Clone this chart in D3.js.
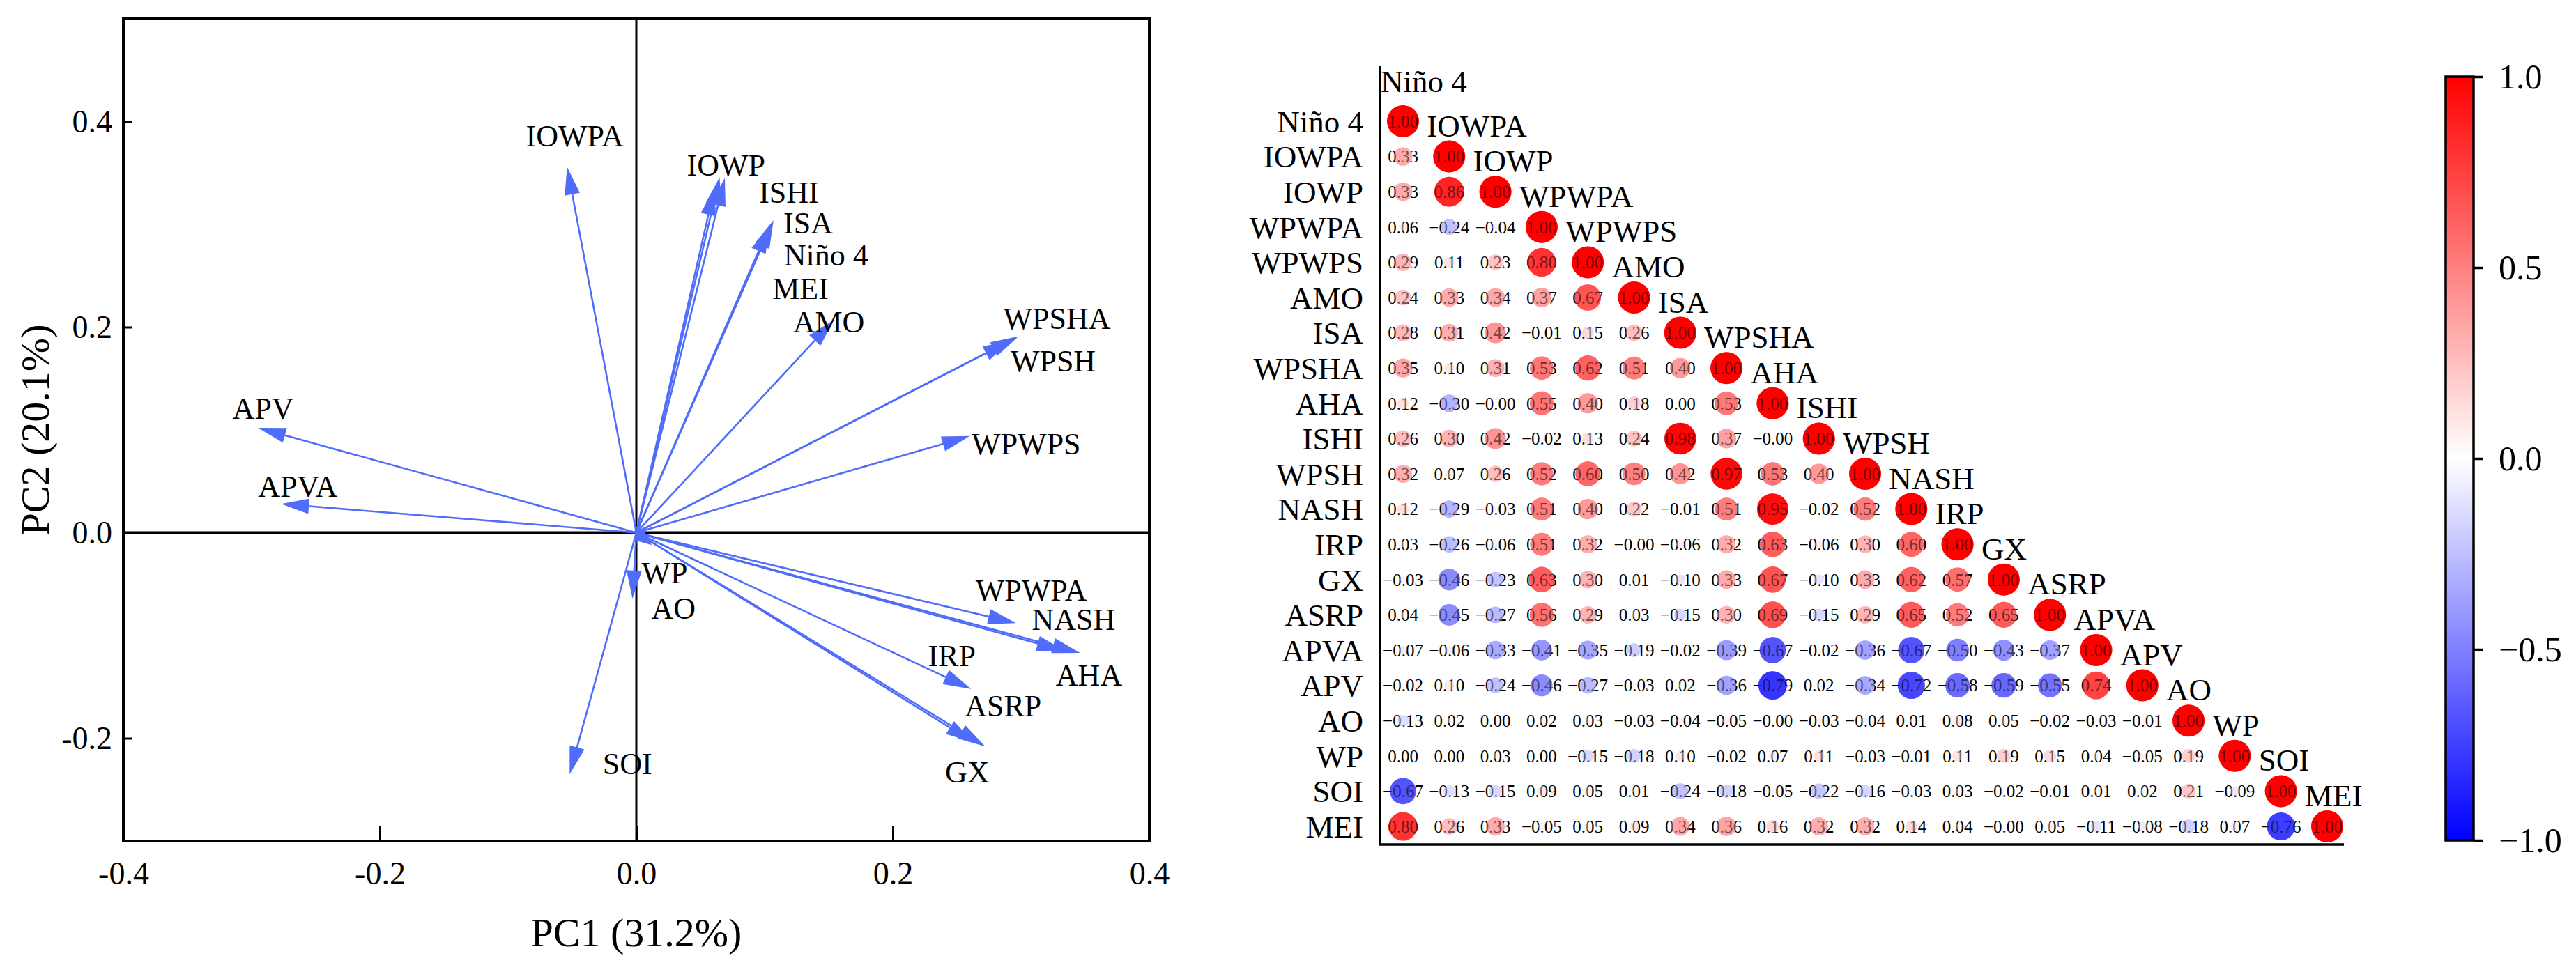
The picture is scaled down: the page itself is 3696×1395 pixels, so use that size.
<!DOCTYPE html>
<html><head><meta charset="utf-8">
<script src="https://cdn.jsdelivr.net/npm/d3@7"></script>
<style>
body{margin:0;background:#fff}
svg{display:block;background:#fff}
text{font-family:"Liberation Serif","Times New Roman",serif}
</style>
</head><body>
<svg id="c" width="3696" height="1395"></svg>
<script>
// ---------- PCA biplot data ----------
const pcaVars  = ["IOWPA","IOWP","Niño 4","MEI","ISA","ISHI","AMO","WPSHA","WPSH","WPWPS","WPWPA","NASH","AHA","IRP","ASRP","GX","APV","APVA","WP","AO","SOI"];
const pc1      = [-0.054,0.069,0.065,0.061,0.107,0.104,0.154,0.298,0.292,0.260,0.296,0.334,0.346,0.261,0.263,0.272,-0.295,-0.277,-0.003,0.012,-0.052];
const pc2      = [0.356,0.345,0.346,0.336,0.304,0.299,0.207,0.191,0.187,0.094,-0.088,-0.115,-0.117,-0.152,-0.204,-0.208,0.102,0.028,-0.064,-0.012,-0.235];
const labelPc1 = [-0.048,0.070,0.148,0.128,0.134,0.119,0.150,0.328,0.325,0.304,0.308,0.341,0.353,0.246,0.286,0.258,-0.291,-0.264,0.022,0.029,-0.007];
const labelPc2 = [0.386,0.357,0.270,0.237,0.301,0.331,0.205,0.208,0.167,0.086,-0.056,-0.085,-0.139,-0.120,-0.169,-0.233,0.121,0.045,-0.039,-0.074,-0.225];
const xTicks = [-0.4,-0.2,0,0.2,0.4];
const yTicks = [-0.2,0,0.2,0.4];

// ---------- Correlation matrix data ----------
const corrVars = ["Niño 4","IOWPA","IOWP","WPWPA","WPWPS","AMO","ISA","WPSHA","AHA","ISHI","WPSH","NASH","IRP","GX","ASRP","APVA","APV","AO","WP","SOI","MEI"];
const corrLower = [
 [1.00],
 [0.33,1.00],
 [0.33,0.86,1.00],
 [0.06,-0.24,-0.04,1.00],
 [0.29,0.11,0.23,0.80,1.00],
 [0.24,0.33,0.34,0.37,0.67,1.00],
 [0.28,0.31,0.42,-0.01,0.15,0.26,1.00],
 [0.35,0.10,0.31,0.53,0.62,0.51,0.40,1.00],
 [0.12,-0.30,-0.00,0.55,0.40,0.18,0.00,0.53,1.00],
 [0.26,0.30,0.42,-0.02,0.13,0.24,0.98,0.37,-0.00,1.00],
 [0.32,0.07,0.26,0.52,0.60,0.50,0.42,0.97,0.53,0.40,1.00],
 [0.12,-0.29,-0.03,0.51,0.40,0.22,-0.01,0.51,0.95,-0.02,0.52,1.00],
 [0.03,-0.26,-0.06,0.51,0.32,-0.00,-0.06,0.32,0.63,-0.06,0.30,0.60,1.00],
 [-0.03,-0.46,-0.23,0.63,0.30,0.01,-0.10,0.33,0.67,-0.10,0.33,0.62,0.57,1.00],
 [0.04,-0.45,-0.27,0.56,0.29,0.03,-0.15,0.30,0.69,-0.15,0.29,0.65,0.52,0.65,1.00],
 [-0.07,-0.06,-0.33,-0.41,-0.35,-0.19,-0.02,-0.39,-0.67,-0.02,-0.36,-0.67,-0.50,-0.43,-0.37,1.00],
 [-0.02,0.10,-0.24,-0.46,-0.27,-0.03,0.02,-0.36,-0.79,0.02,-0.34,-0.72,-0.58,-0.59,-0.55,0.74,1.00],
 [-0.13,0.02,0.00,0.02,0.03,-0.03,-0.04,-0.05,-0.00,-0.03,-0.04,0.01,0.08,0.05,-0.02,-0.03,-0.01,1.00],
 [0.00,0.00,0.03,0.00,-0.15,-0.18,0.10,-0.02,0.07,0.11,-0.03,-0.01,0.11,0.19,0.15,0.04,-0.05,0.19,1.00],
 [-0.67,-0.13,-0.15,0.09,0.05,0.01,-0.24,-0.18,-0.05,-0.22,-0.16,-0.03,0.03,-0.02,-0.01,0.01,0.02,0.21,-0.09,1.00],
 [0.80,0.26,0.33,-0.05,0.05,0.09,0.34,0.36,0.16,0.32,0.32,0.14,0.04,-0.00,0.05,-0.11,-0.08,-0.18,0.07,-0.76,1.00]
];
const cbTicks = [-1,-0.5,0,0.5,1];

const svg = d3.select("#c");

// ================= PCA =================
const x = d3.scaleLinear([-0.4,0.4],[177,1649]);
const y = d3.scaleLinear([-0.3,0.5],[1207,27]);
const arrowCol = "#4F6DFA";

svg.append("line").attr("x1",x(-0.4)).attr("x2",x(0.4)).attr("y1",y(0)).attr("y2",y(0))
  .attr("stroke","#000").attr("stroke-width",4);
svg.append("line").attr("x1",x(0)).attr("x2",x(0)).attr("y1",y(-0.3)).attr("y2",y(0.5))
  .attr("stroke","#000").attr("stroke-width",3);

const arrows = svg.append("g");
pcaVars.forEach((v,i)=>{
  const x0=x(0), y0=y(0), x1=x(pc1[i]), y1=y(pc2[i]);
  const dx=x1-x0, dy=y1-y0, len=Math.hypot(dx,dy);
  const ux=dx/len, uy=dy/len;
  const L=Math.min(40,len*0.9), W=11;
  const bx=x1-ux*L, by=y1-uy*L;
  arrows.append("line").attr("x1",x0).attr("y1",y0).attr("x2",x1-ux*L*0.7).attr("y2",y1-uy*L*0.7)
    .attr("stroke",arrowCol).attr("stroke-width",2.6);
  arrows.append("polygon")
    .attr("points",[[x1,y1],[bx-uy*W,by+ux*W],[bx+uy*W,by-ux*W]].map(p=>p.join(",")).join(" "))
    .attr("fill",arrowCol);
});

svg.append("g").selectAll("text").data(pcaVars).join("text")
  .attr("x",(d,i)=>x(labelPc1[i])).attr("y",(d,i)=>y(labelPc2[i])).attr("dy","0.33em")
  .attr("text-anchor","middle").style("font-size","44px").text(d=>d);

const xAxis = svg.append("g").attr("transform",`translate(0,${y(-0.3)})`)
  .call(d3.axisBottom(x).tickValues(xTicks).tickSize(-21).tickFormat(d=>d.toFixed(1)));
xAxis.select(".domain").remove();
xAxis.selectAll("line").attr("stroke-width",3);
xAxis.selectAll("text").attr("y",29).attr("dy","0.71em").style("font-size","46px");

const yAxis = svg.append("g").attr("transform",`translate(${x(-0.4)},0)`)
  .call(d3.axisLeft(y).tickValues(yTicks).tickSize(-13).tickPadding(16).tickFormat(d=>d.toFixed(1)));
yAxis.select(".domain").remove();
yAxis.selectAll("line").attr("stroke-width",3);
yAxis.selectAll("text").style("font-size","46px");

svg.append("rect").attr("x",x(-0.4)).attr("y",y(0.5)).attr("width",x(0.4)-x(-0.4)).attr("height",y(-0.3)-y(0.5))
  .attr("fill","none").attr("stroke","#000").attr("stroke-width",4);

svg.append("text").attr("x",x(0)).attr("y",1358).attr("text-anchor","middle")
  .style("font-size","58px").text("PC1 (31.2%)");
svg.append("text").attr("transform",`translate(70,${y(0.1)}) rotate(-90)`).attr("text-anchor","middle")
  .style("font-size","58px").text("PC2 (20.1%)");

// ================= Correlation matrix =================
const n = corrVars.length;
const cx = d3.scaleLinear([0,n-1],[2013,3339]);
const cy = d3.scaleLinear([0,n-1],[174,1186]);
const rScale = d3.scaleSqrt([0,1],[0,23]);
const colScale = d3.scaleLinear([-1,0,1],["#0000FF","#FFFFFF","#FF0000"]);
const fmt = v => ((v<0||Object.is(v,-0))?"\u2212":"") + Math.abs(v).toFixed(2);

const cells = [];
corrLower.forEach((row,i)=>row.forEach((v,j)=>cells.push({i,j,v})));

const mg = svg.append("g");
mg.selectAll("circle.base").data(cells).join("circle").attr("class","base")
  .attr("cx",d=>cx(d.j)).attr("cy",d=>cy(d.i)).attr("r",d=>rScale(Math.abs(d.v)))
  .attr("fill",d=>colScale(d.v));
mg.selectAll("text.num").data(cells).join("text").attr("class","num")
  .attr("x",d=>cx(d.j)).attr("y",d=>cy(d.i)).attr("dy","0.35em").attr("text-anchor","middle")
  .style("font-size","25px").attr("fill","#000").text(d=>fmt(d.v));
mg.selectAll("circle.over").data(cells).join("circle").attr("class","over")
  .attr("cx",d=>cx(d.j)).attr("cy",d=>cy(d.i)).attr("r",d=>rScale(Math.abs(d.v)))
  .attr("fill",d=>colScale(d.v)).attr("fill-opacity",0.45);

// row labels
mg.selectAll("text.rl").data(corrVars).join("text").attr("class","rl")
  .attr("x",1956).attr("y",(d,i)=>cy(i)).attr("dy","0.35em").attr("text-anchor","end")
  .style("font-size","45px").text(d=>d);
// column labels on the diagonal
mg.selectAll("text.cl").data(corrVars).join("text").attr("class","cl")
  .attr("x",(d,j)=>cx(j)-32).attr("y",(d,j)=>j===0?cy(0)-42:cy(j)-29)
  .style("font-size","45px").text(d=>d);

// axis lines of the matrix
mg.append("line").attr("x1",1980).attr("x2",1980).attr("y1",95).attr("y2",1213)
  .attr("stroke","#000").attr("stroke-width",3.5);
mg.append("line").attr("x1",1978).attr("x2",cx(n-1)+24).attr("y1",1212).attr("y2",1212)
  .attr("stroke","#000").attr("stroke-width",3.5);

// ================= Colour bar =================
const cb = d3.scaleLinear([-1,1],[1206,110]);
const defs = svg.append("defs");
const grad = defs.append("linearGradient").attr("id","cbg").attr("x1",0).attr("x2",0).attr("y1",1).attr("y2",0);
[-1,0,1].forEach(v=>grad.append("stop").attr("offset",(v+1)/2).attr("stop-color",colScale(v)));
svg.append("rect").attr("x",3509).attr("y",cb(1)).attr("width",40).attr("height",cb(-1)-cb(1))
  .attr("fill","url(#cbg)").attr("stroke","#000").attr("stroke-width",3.5);
const cbAxis = svg.append("g").attr("transform","translate(3549,0)")
  .call(d3.axisRight(cb).tickValues(cbTicks).tickSize(14).tickPadding(22)
    .tickFormat(d=>(d<0?"\u2212":"")+Math.abs(d).toFixed(1)));
cbAxis.select(".domain").remove();
cbAxis.selectAll("line").attr("stroke-width",3.5);
cbAxis.selectAll("text").style("font-size","50px");
</script>
</body></html>
